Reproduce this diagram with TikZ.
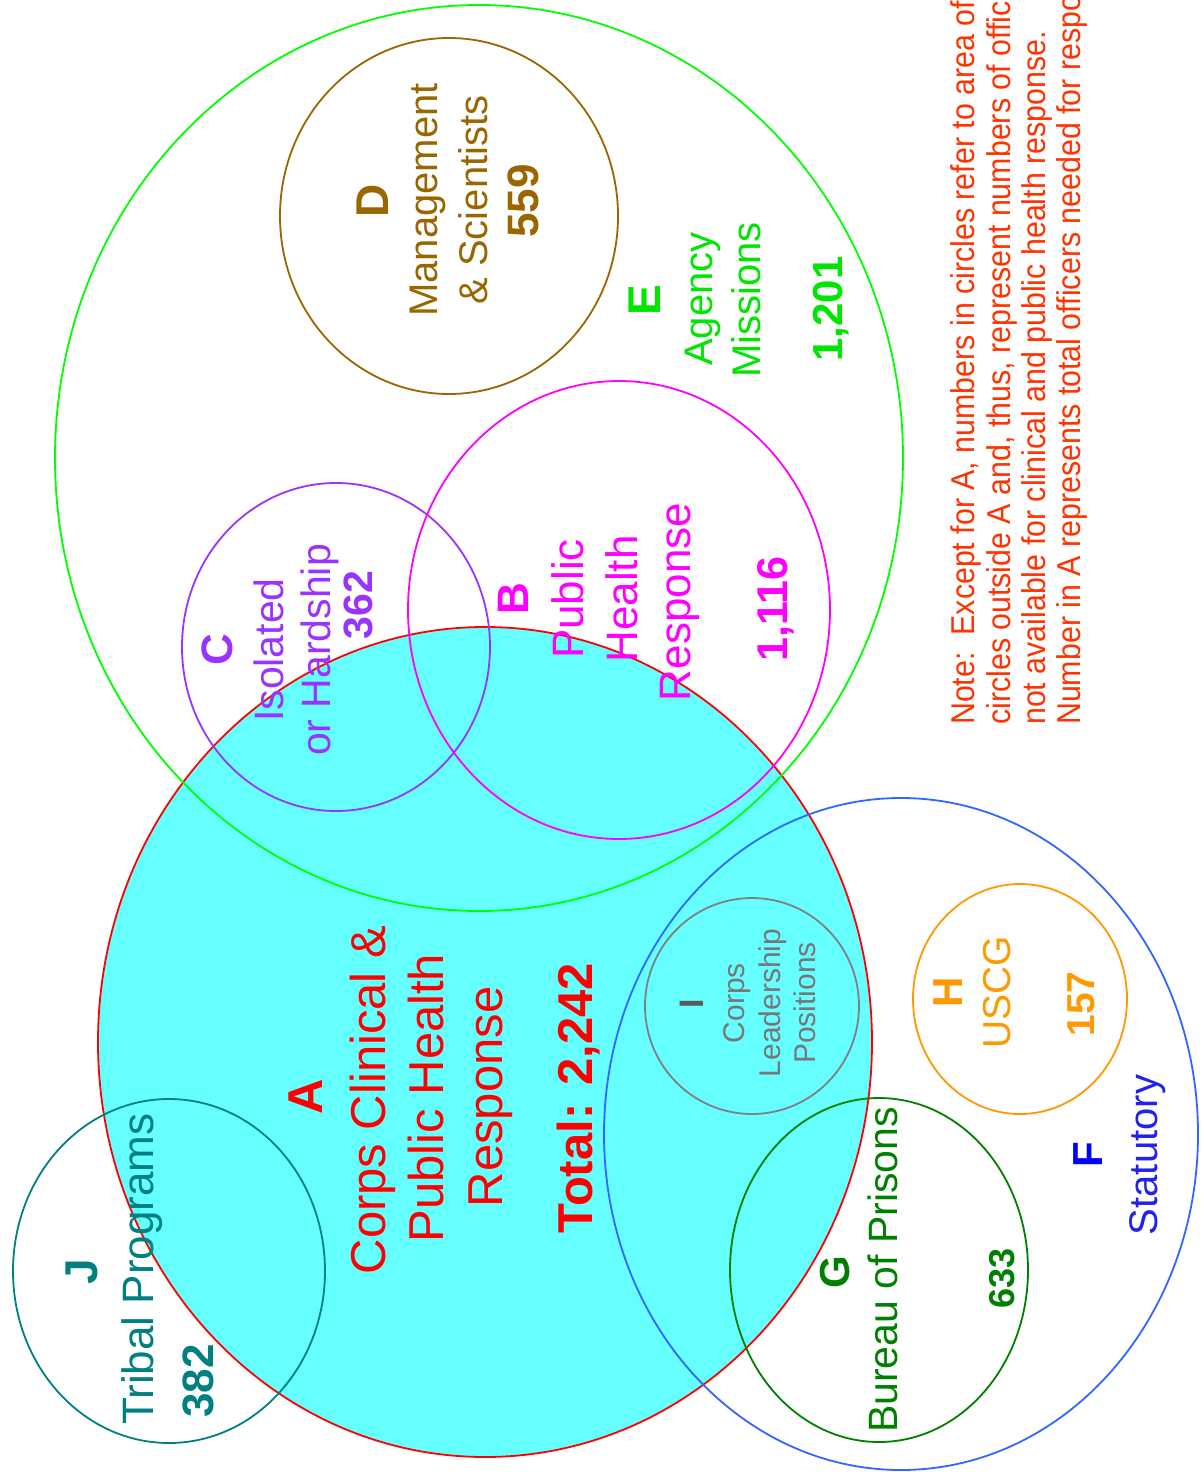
\documentclass[tikz,border=0pt]{standalone}
\usepackage{fontspec}
\setmainfont{Liberation Sans}
\newfontfamily\notefont[FakeStretch=0.92]{Liberation Sans}
\usetikzlibrary{shapes.geometric}
\definecolor{cyanA}{HTML}{66FFFF}
\definecolor{redA}{HTML}{FF0000}
\definecolor{greenE}{HTML}{00FF00}
\definecolor{greenEt}{HTML}{00E600}
\definecolor{magB}{HTML}{FF00FF}
\definecolor{purC}{HTML}{9933FF}
\definecolor{brnD}{HTML}{996600}
\definecolor{bluF}{HTML}{3366FF}
\definecolor{bluFt}{HTML}{0000FF}
\definecolor{bluSt}{HTML}{2222EE}
\definecolor{grnG}{HTML}{008000}
\definecolor{orgH}{HTML}{FF9900}
\definecolor{gryI}{HTML}{808080}
\definecolor{gryIt}{HTML}{777777}
\definecolor{gryIl}{HTML}{5A5A5A}
\definecolor{tealJ}{HTML}{008080}
\definecolor{noteC}{HTML}{FF3300}
\newcommand{\myfs}[1]{\fontsize{#1}{#1}\selectfont}
\tikzset{
  ring/.style={ellipse, inner sep=0pt, outer sep=0pt, line width=1.8pt},
  lbl/.style={rotate=90, inner sep=0pt, anchor=base},
  lblw/.style={rotate=90, inner sep=0pt, anchor=base west},
}
\begin{document}
\begin{tikzpicture}[x=1pt,y=-1pt]
\useasboundingbox (0,0) rectangle (1204,1472);
\clip (0,0) rectangle (1204,1472);
\fill[white] (0,0) rectangle (1204,1472);
% circles
\node[ring, fill=cyanA, draw=redA, minimum width=774pt, minimum height=830pt] (A) at (485,1042) {};
\node[ring, draw=greenE, minimum width=848pt, minimum height=906pt] (E) at (479,458) {};
\node[ring, draw=brnD, minimum width=338pt, minimum height=356pt] (D) at (449,216) {};
\node[ring, draw=purC, minimum width=308pt, minimum height=328pt] (C) at (336,647) {};
\node[ring, draw=magB, minimum width=422pt, minimum height=458pt] (B) at (619,610) {};
\node[ring, draw=bluF, minimum width=594pt, minimum height=672pt] (F) at (901,1134) {};
\node[ring, draw=orgH, minimum width=214pt, minimum height=230pt] (H) at (1020,999) {};
\node[ring, draw=gryI, minimum width=214pt, minimum height=216pt] (I) at (752,1006) {};
\node[ring, draw=grnG, minimum width=298pt, minimum height=344pt] (G) at (879,1270) {};
\node[ring, draw=tealJ, minimum width=312pt, minimum height=344pt] (J) at (169,1271) {};
% A texts
\node[lbl, text=redA, font=\myfs{49}\bfseries] (tA) at (322,1097) {A};
\node[lbl, text=redA, font=\myfs{49}] (tA1) at (385,1100) {Corps Clinical \&};
\node[lbl, text=redA, font=\myfs{49}] (tA2) at (443,1098) {Public Health};
\node[lbl, text=redA, font=\myfs{49}] (tA3) at (502,1097) {Response};
\node[lbl, text=redA, font=\myfs{49}\bfseries] (tA4) at (592,1098) {Total: 2,242};
% J texts
\node[lbl, text=tealJ, font=\myfs{46}\bfseries] (tJ) at (97,1272) {J};
\node[lblw, text=tealJ, font=\myfs{44}] (tJ1) at (153,1425) {Tribal Programs};
\node[lblw, text=tealJ, font=\myfs{44}\bfseries] (tJ2) at (213,1418) {382};
% C texts
\node[lbl, text=purC, font=\myfs{44}\bfseries] (tC) at (232,650) {C};
\node[lbl, text=purC, font=\myfs{41}] (tC1) at (283,650) {Isolated};
\node[lbl, text=purC, font=\myfs{41}] (tC2) at (330,650) {or Hardship};
\node[lbl, text=purC, font=\myfs{41}\bfseries] (tC3) at (372,605) {362};
% B texts
\node[lbl, text=magB, font=\myfs{44}\bfseries] (tB) at (528,599) {B};
\node[lbl, text=magB, font=\myfs{44}] (tB1) at (583,599) {Public};
\node[lbl, text=magB, font=\myfs{44}] (tB2) at (637,599) {Health};
\node[lbl, text=magB, font=\myfs{44}] (tB3) at (690,602) {Response};
\node[lbl, text=magB, font=\myfs{43}\bfseries] (tB4) at (787,609) {1,116};
% E texts
\node[lbl, text=greenEt, font=\myfs{46}\bfseries] (tE) at (660,300) {E};
\node[lbl, text=greenEt, font=\myfs{40}] (tE1) at (712,299) {Agency};
\node[lbl, text=greenEt, font=\myfs{40}] (tE2) at (760,300) {Missions};
\node[lbl, text=greenEt, font=\myfs{42}\bfseries] (tE3) at (842,309) {1,201};
% D texts
\node[lbl, text=brnD, font=\myfs{46}\bfseries] (tD) at (388,201) {D};
\node[lbl, text=brnD, font=\myfs{40}] (tD1) at (437,200) {Management};
\node[lbl, text=brnD, font=\myfs{40}] (tD2) at (487,200) {\& Scientists};
\node[lbl, text=brnD, font=\myfs{44}\bfseries] (tD3) at (538,201) {559};
% I texts
\node[lbl, text=gryIl, font=\myfs{34}\bfseries] (tI) at (703,1004) {I};
\node[lbl, text=gryIt, font=\myfs{30}] (tI1) at (744,1003) {Corps};
\node[lbl, text=gryIt, font=\myfs{30}] (tI2) at (780,1003) {Leadership};
\node[lbl, text=gryIt, font=\myfs{30}] (tI3) at (815,1003) {Positions};
% G texts
\node[lbl, text=grnG, font=\myfs{42}\bfseries] (tG) at (849,1272) {G};
\node[lbl, text=grnG, font=\myfs{41}] (tG1) at (897,1270) {Bureau of Prisons};
\node[lbl, text=grnG, font=\myfs{36}\bfseries] (tG2) at (1014,1278) {633};
% H texts
\node[lbl, text=orgH, font=\myfs{42}\bfseries] (tH) at (962,992) {H};
\node[lbl, text=orgH, font=\myfs{39}] (tH1) at (1010,992) {USCG};
\node[lbl, text=orgH, font=\myfs{39}\bfseries] (tH2) at (1094,1004) {157};
% F texts
\node[lbl, text=bluFt, font=\myfs{42}\bfseries] (tF) at (1102,1155) {F};
\node[lbl, text=bluSt, font=\myfs{40}] (tF1) at (1157,1155) {Statutory};
% note
\node[lblw, text=noteC, font=\notefont\myfs{33}] (n1) at (974,725) {Note:\ \ Except for A, numbers in circles refer to area of};
\node[lblw, text=noteC, font=\notefont\myfs{33}] (n2) at (1010,725) {circles outside A and, thus, represent numbers of officers};
\node[lblw, text=noteC, font=\notefont\myfs{33}] (n3) at (1045,725) {not available for clinical and public health response.};
\node[lblw, text=noteC, font=\notefont\myfs{33}] (n4) at (1080,725) {Number in A represents total officers needed for response.};
\end{tikzpicture}
\end{document}
